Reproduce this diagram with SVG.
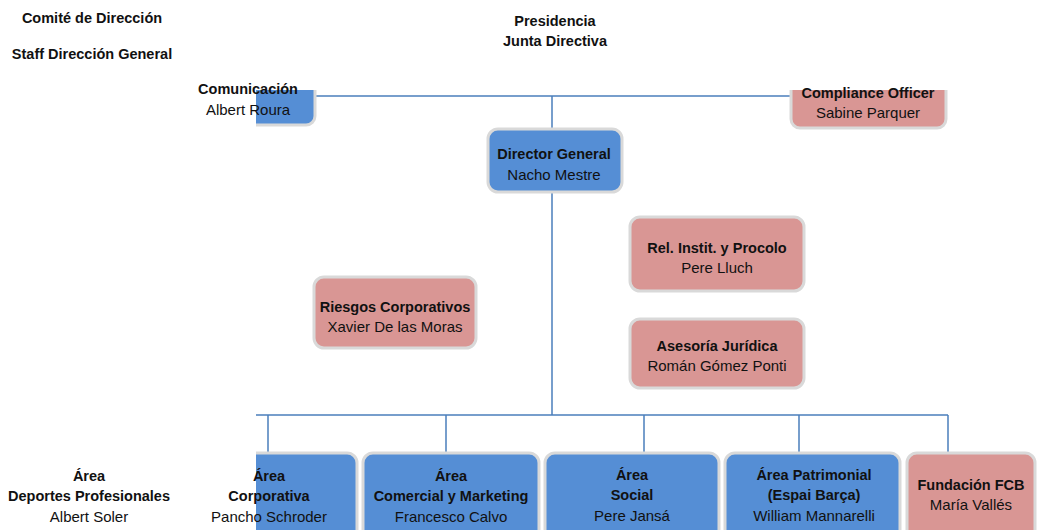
<svg xmlns="http://www.w3.org/2000/svg" width="1037" height="530" viewBox="0 0 1037 530">
  <style>
    text { font-family: "Liberation Sans", Arial, sans-serif; font-size: 15px; fill: #111; text-anchor: middle; }
    .b { font-weight: bold; font-size: 14.5px; }
    .blue { fill: #558ed5; stroke: #d9d9d9; stroke-width: 3; }
    .pink { fill: #d99694; stroke: #d9d9d9; stroke-width: 3; }
    .link { fill: none; stroke: #4a7ebb; stroke-width: 1.5; }
  </style>
  <defs>
    <!-- visible page region: boxes that run past the page edges are cut here -->
    <clipPath id="page">
      <rect x="256" y="90" width="781" height="440"/>
    </clipPath>
  </defs>
  <rect width="1037" height="530" fill="#ffffff"/>

  <g id="connectors">
    <path class="link" d="M315 96 H791"/>
    <path class="link" d="M552 96 V129"/>
    <path class="link" d="M552 192 V415"/>
    <path class="link" d="M256 415 H948"/>
    <path class="link" d="M268 415 V453"/>
    <path class="link" d="M446 415 V453"/>
    <path class="link" d="M644 415 V453"/>
    <path class="link" d="M799 415 V453"/>
    <path class="link" d="M948 415 V453"/>
  </g>

  <g id="labels">
    <text class="b" x="92" y="23">Comité de Dirección</text>
    <text class="b" x="92" y="59">Staff Dirección General</text>
    <text class="b" x="555" y="26">Presidencia</text>
    <text class="b" x="555" y="46">Junta Directiva</text>
  </g>

  <g id="comunicacion">
    <rect class="blue" x="180" y="60" width="135" height="65" rx="9" clip-path="url(#page)"/>
    <text class="b" x="248" y="94">Comunicación</text>
    <text x="248" y="115">Albert Roura</text>
  </g>

  <g id="compliance">
    <rect class="pink" x="791" y="60" width="155" height="68" rx="9" clip-path="url(#page)"/>
    <text class="b" x="868" y="98">Compliance Officer</text>
    <text x="868" y="118">Sabine Parquer</text>
  </g>

  <g id="director-general">
    <rect class="blue" x="488" y="129" width="134" height="63" rx="10"/>
    <text class="b" x="554" y="159">Director General</text>
    <text x="554" y="180">Nacho Mestre</text>
  </g>

  <g id="rel-instit">
    <rect class="pink" x="630" y="217" width="174" height="74" rx="10"/>
    <text class="b" x="717" y="253">Rel. Instit. y Procolo</text>
    <text x="717" y="273">Pere Lluch</text>
  </g>

  <g id="riesgos">
    <rect class="pink" x="314" y="277" width="162" height="71" rx="10"/>
    <text class="b" x="395" y="312">Riesgos Corporativos</text>
    <text x="395" y="332">Xavier De las Moras</text>
  </g>

  <g id="asesoria">
    <rect class="pink" x="630" y="319" width="174" height="69" rx="10"/>
    <text class="b" x="717" y="351">Asesoría Jurídica</text>
    <text x="717" y="371">Román Gómez Ponti</text>
  </g>

  <g id="deportes">
    <text class="b" x="89" y="481">Área</text>
    <text class="b" x="89" y="501">Deportes Profesionales</text>
    <text x="89" y="522">Albert Soler</text>
  </g>

  <g id="corporativa">
    <rect class="blue" x="181" y="453" width="176" height="90" rx="10" clip-path="url(#page)"/>
    <text class="b" x="269" y="481">Área</text>
    <text class="b" x="269" y="501">Corporativa</text>
    <text x="269" y="522">Pancho Schroder</text>
  </g>

  <g id="comercial">
    <rect class="blue" x="363" y="453" width="176" height="90" rx="10"/>
    <text class="b" x="451" y="481">Área</text>
    <text class="b" x="451" y="501">Comercial y Marketing</text>
    <text x="451" y="522">Francesco Calvo</text>
  </g>

  <g id="social">
    <rect class="blue" x="545" y="453" width="174" height="90" rx="10"/>
    <text class="b" x="632" y="480">Área</text>
    <text class="b" x="632" y="500">Social</text>
    <text x="632" y="521">Pere Jansá</text>
  </g>

  <g id="patrimonial">
    <rect class="blue" x="725" y="453" width="175" height="90" rx="10"/>
    <text class="b" x="814" y="480">Área Patrimonial</text>
    <text class="b" x="814" y="500">(Espai Barça)</text>
    <text x="814" y="521">William Mannarelli</text>
  </g>

  <g id="fundacion">
    <rect class="pink" x="907" y="453" width="128" height="90" rx="10"/>
    <text class="b" x="971" y="490">Fundación FCB</text>
    <text x="971" y="510">María Vallés</text>
  </g>
</svg>
